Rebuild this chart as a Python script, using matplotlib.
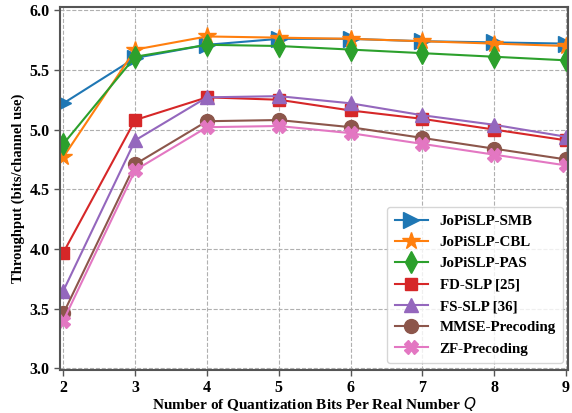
import matplotlib
matplotlib.use("Agg")
import matplotlib.pyplot as plt

plt.rcParams['font.family'] = ['Liberation Serif', 'DejaVu Serif']
plt.rcParams['font.weight'] = 'bold'
plt.rcParams['mathtext.fontset'] = 'custom'
plt.rcParams['mathtext.it'] = 'DejaVu Sans:style=italic:weight=normal'
plt.rcParams['mathtext.rm'] = 'DejaVu Sans:weight=normal'

Q = [2, 3, 4, 5, 6, 7, 8, 9]
smb = [5.22, 5.60, 5.71, 5.76, 5.76, 5.74, 5.73, 5.72]
cbl = [4.77, 5.67, 5.78, 5.77, 5.76, 5.74, 5.72, 5.70]
pas = [4.88, 5.61, 5.71, 5.70, 5.67, 5.64, 5.61, 5.58]
fd_slp = [3.97, 5.08, 5.27, 5.25, 5.16, 5.09, 5.00, 4.91]
fs_slp = [3.65, 4.91, 5.27, 5.28, 5.22, 5.12, 5.04, 4.94]
mmse = [3.46, 4.71, 5.07, 5.08, 5.02, 4.93, 4.84, 4.75]
zf = [3.40, 4.66, 5.02, 5.03, 4.97, 4.88, 4.79, 4.70]

labels = ['JoPiSLP-SMB', 'JoPiSLP-CBL', 'JoPiSLP-PAS', 'FD-SLP [25]',
          'FS-SLP [36]', 'MMSE-Precoding', 'ZF-Precoding']
series = [smb, cbl, pas, fd_slp, fs_slp, mmse, zf]
markers = ['>', '*', 'd', 's', '^', 'o', 'X']
sizes = [11, 13, 11, 9, 10, 10, 10]
colors = ['#1f77b4', '#ff7f0e', '#2ca02c', '#d62728', '#9467bd', '#8c564b', '#e377c2']

fig = plt.figure(figsize=(5.72, 4.13), dpi=100)
ax = fig.add_axes([0.105, 0.104, 0.8886, 0.878])

for y, lab, m, ms, c in zip(series, labels, markers, sizes, colors):
    ax.plot(Q, y, marker=m, markersize=ms, color=c, linewidth=1.5, label=lab)

ax.set_xlim(1.954, 9.032)
ax.set_ylim(2.986, 6.023)
ax.set_xticks(Q)
ax.set_yticks([3.0, 3.5, 4.0, 4.5, 5.0, 5.5, 6.0])
ax.set_yticklabels(['3.0', '3.5', '4.0', '4.5', '5.0', '5.5', '6.0'])
ax.grid(True, linestyle='--', color='#b0b0b0', linewidth=0.8)
for s in ax.spines.values():
    s.set_color('#555555')
    s.set_linewidth(1.5)
ax.tick_params(axis='both', labelsize=11.5, color='#555555', length=4, width=1)
for t in ax.get_xticklabels() + ax.get_yticklabels():
    t.set_fontweight('bold')

ax.set_xlabel('Number of Quantization Bits Per Real Number $Q$', fontsize=11,
              fontweight='bold', labelpad=-1)
ax.set_ylabel('Throughput (bits/channel use)', fontsize=10.5, fontweight='bold',
              labelpad=3)

leg = ax.legend(loc='lower right', prop={'weight': 'bold', 'size': 10.8},
                handlelength=2.2, borderpad=0.5, labelspacing=0.52,
                bbox_to_anchor=(0.99, 0.019), borderaxespad=0)
leg.get_frame().set_edgecolor('#cccccc')

fig.savefig('out.png', dpi=100)
